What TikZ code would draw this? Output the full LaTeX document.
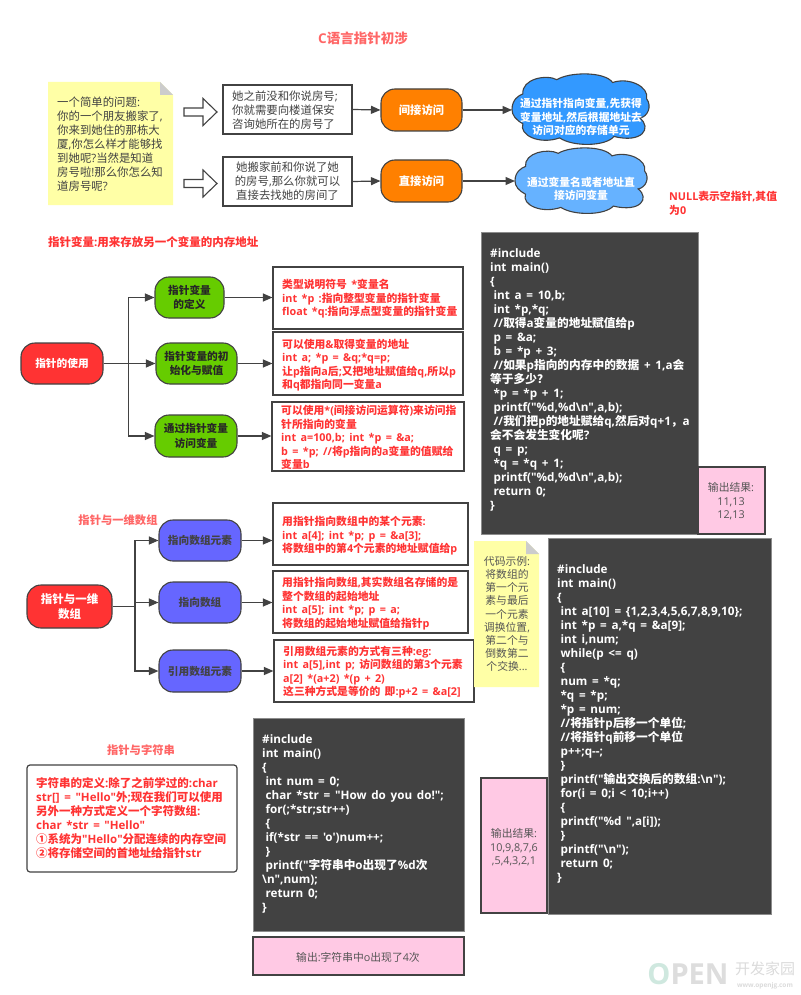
\documentclass[tikz,border=0pt]{standalone}
\usepackage{fontspec}
\usetikzlibrary{arrows.meta}
\newfontfamily\latfam[NFSSFamily=lat,WordSpace=1.55]{Open Sans}
\newfontfamily\cnfam[NFSSFamily=cnf]{Noto Sans CJK SC}
\newcommand\latf{\fontfamily{lat}\selectfont}
\newcommand\cjkf{\fontfamily{cnf}\selectfont}
\XeTeXinterchartokenstate=1
\newXeTeXintercharclass\cjkcls
\newcount\cc
\cc="2E80 \loop \XeTeXcharclass\cc=\cjkcls \advance\cc 1 \ifnum\cc<"A000 \repeat
\cc="FF00 \loop \XeTeXcharclass\cc=\cjkcls \advance\cc 1 \ifnum\cc<"FFF0 \repeat
\cc="2460 \loop \XeTeXcharclass\cc=\cjkcls \advance\cc 1 \ifnum\cc<"2474 \repeat
\XeTeXinterchartoks 0 \cjkcls={\cjkf}
\XeTeXinterchartoks 4095 \cjkcls={\cjkf}
\XeTeXinterchartoks \cjkcls 0={\latf}
\XeTeXinterchartoks \cjkcls 4095={\latf}
\definecolor{ink}{HTML}{424242}
\definecolor{redtxt}{HTML}{FF3333}
\definecolor{softred}{HTML}{FF6666}
\definecolor{notey}{HTML}{FFFFA6}
\definecolor{orangeb}{HTML}{FF8000}
\definecolor{cloudA}{HTML}{3399FF}
\definecolor{cloudB}{HTML}{66B2FF}
\definecolor{rootred}{HTML}{FF3333}
\definecolor{greenb}{HTML}{66CC00}
\definecolor{blueb}{HTML}{6666FF}
\definecolor{pinkb}{HTML}{FFC9E4}
\definecolor{graytxt}{HTML}{555555}
\newcommand\basefont[2]{\latf\fontsize{#1}{#2}\selectfont}
\tikzset{
  rect/.style={draw=ink,line width=1.2pt,fill=white,inner sep=0pt},
  pill/.style={draw=ink,line width=1.1pt,rounded corners=14pt,inner sep=0pt,align=center},
  orangep/.style={pill,fill=orangeb,text=white,font=\basefont{11.3}{14}\bfseries},
  redp/.style={pill,fill=rootred,text=white,font=\basefont{10.7}{14.5}\bfseries},
  greenp/.style={pill,fill=greenb,text=black!85,font=\basefont{10.7}{14.5}\bfseries},
  bluep/.style={pill,fill=blueb,text=ink,font=\basefont{10.7}{14}\bfseries},
  conn/.style={draw=ink,line width=1.2pt,-{Triangle[length=9.5pt,width=8pt]}},
  blockarrow/.style={draw=ink,line width=1.1pt,fill=white},
  redtext/.style={text=redtxt,font=\basefont{10.8}{13.4}\bfseries,align=left,inner sep=0pt,anchor=west},
  darktext/.style={text=ink,font=\basefont{11.4}{14}\selectfont,align=left,inner sep=0pt,anchor=west},
  codetext/.style={text=white,font=\basefont{11.7}{14}\bfseries,align=left,inner sep=0pt,anchor=west},
  cloudtext/.style={text=white,font=\basefont{10.8}{13.2}\bfseries,align=center,inner sep=0pt},
  greytext/.style={text=graytxt,font=\basefont{10.8}{13.4}\selectfont,align=center,inner sep=0pt},
  code/.style={draw=black!45,line width=.8pt,fill=ink,inner sep=0pt},
  pinkbox/.style={draw=ink,line width=1.1pt,fill=pinkb,inner sep=0pt},
  notebox/.style={fill=notey,draw=none},
  fold/.style={fill=black!20,draw=none},
  cloudline/.style={draw=ink,line width=1.1pt},
}
% rectangle-like node from corners
\newcommand\bx[7]{\node[#6,minimum width={(#4-#2)*1pt},minimum height={(#5-#3)*1pt}] (#1) at ({(#2+#4)/2},{(#3+#5)/2}) {#7};}
% free text: name, x, y, style, text
\newcommand\tx[5]{\node[#4] (#1) at (#2,#3) {#5};}
\newcommand\blockar[2]{\draw[blockarrow] (#1,#2-4) -- ++(19,0) -- ++(0,-9.5) -- ++(14,13.5) -- ++(-14,13.5) -- ++(0,-9.5) -- ++(-19,0) -- cycle;}
\newcommand\notesh[4]{\path[notebox] (#1,#2) -- (#3-13,#2) -- (#3,#2+13) -- (#3,#4) -- (#1,#4) -- cycle;
  \path[fold] (#3-13,#2) -- (#3,#2+13) -- (#3-13,#2+13) -- cycle;}
\newcommand\cloudsh[5]{\begin{scope}[shift={(#1,#2)},x=#3pt,y=-#4pt]
  \draw[cloudline,fill=#5] (0,.5) .. controls (0,.36) and (.05,.3) .. (.08,.28)
    .. controls (.07,.07) and (.25,.0) .. (.33,.08)
    .. controls (.42,-.03) and (.68,-.04) .. (.74,.12)
    .. controls (.86,.04) and (1.01,.18) .. (.99,.35)
    .. controls (1.03,.45) and (1,.6) .. (.94,.62)
    .. controls (1.03,.76) and (.96,.98) .. (.75,.88)
    .. controls (.69,1.02) and (.45,1.03) .. (.35,.9)
    .. controls (.2,1) and (.05,.86) .. (.08,.7)
    .. controls (.03,.65) and (0,.58) .. (0,.5) -- cycle;
\end{scope}}
\newcommand\ii{\hspace*{3.4pt}}
\begin{document}
\begin{tikzpicture}[x=1pt,y=-1pt]
\useasboundingbox (0,0) rectangle (800,995);
\fill[white] (0,0) rectangle (800,995);

\tx{title}{363}{38}{text=softred,font=\basefont{13.5}{16}\bfseries,inner sep=0pt}{C语言指针初涉}

% top note
\notesh{48}{82}{173}{205}
\tx{notet}{57}{144}{darktext}{一个简单的问题:\\你的一个朋友搬家了,\\你来到她住的那栋大\\厦,你怎么样才能够找\\到她呢?当然是知道\\房号啦!那么你怎么知\\道房号呢?}
\blockar{184}{112}
\blockar{184}{183.5}

\bx{q1}{223}{85}{352}{134}{rect}{}
\tx{q1t}{232}{110}{darktext}{她之前没和你说房号;\\你就需要向楼道保安\\咨询她所在的房号了}
\bx{q2}{223}{157}{352}{206}{rect}{}
\tx{q2t}{287.5}{181.5}{darktext,align=center,anchor=center}{她搬家前和你说了她\\的房号,那么你就可以\\直接去找她的房间了}

\bx{o1}{381}{89}{462}{131}{orangep}{间接访问}
\bx{o2}{381}{160}{462}{202}{orangep}{直接访问}

\cloudsh{512}{74}{136}{71}{cloudA}
\cloudsh{515}{148}{131}{66}{cloudB}
\coordinate (c1) at (512,110);
\coordinate (c2) at (515,181);
\tx{c1t}{581}{117}{cloudtext}{通过指针指向变量,先获得\\变量地址,然后根据地址去\\访问对应的存储单元}
\tx{c2t}{581}{188.5}{cloudtext}{通过变量名或者地址直\\接访问变量}
\draw[conn] (q1.east) -- (o1.west);
\draw[conn] (q2.east) -- (o2.west);
\draw[conn] (o1.east) -- (c1);
\draw[conn] (o2.east) -- (c2);

\tx{nullt}{669}{203.5}{redtext}{NULL表示空指针,其值\\为0}
\tx{secA}{48}{242}{redtext,font=\basefont{11.5}{14}\bfseries}{指针变量:用来存放另一个变量的内存地址}

% section: pointer use
\bx{r1}{21}{343}{103}{384}{redp}{指针的使用}
\bx{g1}{155}{277}{224}{318}{greenp}{指针变量\\的定义}
\bx{g2}{156}{343}{237}{384}{greenp}{指针变量的初\\始化与赋值}
\bx{g3}{155}{415}{237}{457}{greenp}{通过指针变量\\访问变量}
\coordinate (tr1) at (128.7,363.5);
\draw[conn] (r1.east) -- (tr1) |- (g1.west);
\draw[conn] (r1.east) -- (g2.west);
\draw[conn] (tr1) |- (g3.west);

\bx{b1}{273}{267}{463}{329}{rect}{}
\bx{b2}{273}{332}{463}{395}{rect}{}
\bx{b3}{272}{402}{464}{471}{rect}{}
\tx{b1t}{282}{299}{redtext}{类型说明符号 *变量名\\int *p :指向整型变量的指针变量\\float *q:指向浮点型变量的指针变量}
\tx{b2t}{282}{365}{redtext}{可以使用\&取得变量的地址\\int a; *p = \&q;*q=p;\\让p指向a后;又把地址赋值给q,所以p\\和q都指向同一变量a}
\tx{b3t}{281}{437.5}{redtext}{可以使用*(间接访问运算符)来访问指\\针所指向的变量\\int a=100,b; int *p = \&a;\\b = *p; //将p指向的a变量的值赋给\\变量b}
\draw[conn] (g1.east) -- (g1.east -| b1.west);
\draw[conn] (g2.east) -- (g2.east -| b2.west);
\draw[conn] (g3.east) -- (g3.east -| b3.west);

% code 1
\bx{k1}{481}{232}{698}{534}{code}{}
\tx{k1t}{490}{380}{codetext}{\#include\\int main()\\\{\\\ii int a = 10,b;\\\ii int *p,*q;\\\ii //取得a变量的地址赋值给p\\\ii p = \&a;\\\ii b = *p + 3;\\\ii //如果p指向的内存中的数据 + 1,a会\\等于多少？\\\ii *p = *p + 1;\\\ii printf("\%d,\%d\textbackslash n",a,b);\\\ii //我们把p的地址赋给q,然后对q+1，a\\会不会发生变化呢?\\\ii q = p;\\\ii *q = *q + 1;\\\ii printf("\%d,\%d\textbackslash n",a,b);\\\ii return 0;\\\}}
\bx{p1}{698}{467}{765}{534}{pinkbox}{}
\tx{p1t}{731}{501.5}{greytext}{输出结果:\\11,13\\12,13}

% section: arrays
\tx{secB}{118}{520}{text=softred,font=\basefont{11.3}{14}\bfseries,inner sep=0pt}{指针与一维数组}
\bx{r2}{27}{585}{112}{628}{redp,font=\basefont{11.5}{14.5}\bfseries}{指针与一维\\数组}
\bx{h1}{159}{520}{241}{561}{bluep}{指向数组元素}
\bx{h2}{159}{582}{241}{623}{bluep}{指向数组}
\bx{h3}{159}{650}{241}{692}{bluep}{引用数组元素}
\coordinate (tr2) at (135,606.5);
\draw[conn] (r2.east) -- (tr2) |- (h1.west);
\draw[conn] (tr2) |- (h2.west);
\draw[conn] (tr2) |- (h3.west);
\bx{d1}{273}{503}{468}{565}{rect}{}
\bx{d2}{273}{571}{468}{633}{rect}{}
\bx{d3}{274}{640}{474}{702}{rect}{}
\tx{d1t}{282}{536}{redtext}{用指针指向数组中的某个元素:\\int a[4]; int *p; p = \&a[3];\\将数组中的第4个元素的地址赋值给p}
\tx{d2t}{282}{603.5}{redtext}{用指针指向数组,其实数组名存储的是\\整个数组的起始地址\\int a[5]; int *p; p = a;\\将数组的起始地址赋值给指针p}
\tx{d3t}{283}{672}{redtext}{引用数组元素的方式有三种:eg:\\int a[5],int p; 访问数组的第3个元素\\a[2] *(a+2) *(p + 2)\\这三种方式是等价的 即:p+2 = \&a[2]}
\draw[conn] (h1.east) -- (h1.east -| d1.west);
\draw[conn] (h2.east) -- (h2.east -| d2.west);
\draw[conn] (h3.east) -- (h3.east -| d3.west);

% note 2
\notesh{474}{541}{539}{687}
\tx{n2t}{507}{614}{greytext,font=\basefont{10.8}{13.1}\selectfont}{代码示例:\\将数组的\\第一个元\\素与最后\\一个元素\\调换位置,\\第二个与\\倒数第二\\个交换...}

% code 2
\bx{k2}{548}{538}{771}{914}{code}{}
\tx{k2t}{557}{724}{codetext}{\#include\\int main()\\\{\\\ii int a[10] = \{1,2,3,4,5,6,7,8,9,10\};\\\ii int *p = a,*q = \&a[9];\\\ii int i,num;\\\ii while(p <= q)\\\ii \{\\\ii num = *q;\\\ii *q = *p;\\\ii *p = num;\\\ii //将指针p后移一个单位;\\\ii //将指针q前移一个单位\\\ii p++;q--;\\\ii \}\\\ii printf("输出交换后的数组:\textbackslash n");\\\ii for(i = 0;i < 10;i++)\\\ii \{\\\ii printf("\%d ",a[i]);\\\ii \}\\\ii printf("\textbackslash n");\\\ii return 0;\\\}}
\bx{p2}{481}{778}{547}{913}{pinkbox}{}
\tx{p2t}{514}{847.5}{greytext}{输出结果:\\10,9,8,7,6\\,5,4,3,2,1}

% section: strings
\tx{secC}{141}{750}{text=softred,font=\basefont{11.3}{14}\bfseries,inner sep=0pt}{指针与字符串}
\bx{s1}{27}{765}{237}{872}{rect,rounded corners=3pt}{}
\tx{s1t}{36}{818}{redtext,font=\basefont{11.5}{14}\bfseries}{字符串的定义:除了之前学过的:char\\str[] = "Hello"外;现在我们可以使用\\另外一种方式定义一个字符数组:\\char *str = "Hello"\\①系统为"Hello"分配连续的内存空间\\②将存储空间的首地址给指针str}

\bx{k3}{253}{718}{464}{931}{code}{}
\tx{k3t}{262}{824}{codetext}{\#include\\int main()\\\{\\\ii int num = 0;\\\ii char *str = "How do you do!";\\\ii for(;*str;str++)\\\ii \{\\\ii if(*str == 'o')num++;\\\ii \}\\\ii printf("字符串中o出现了\%d次\\\textbackslash n",num);\\\ii return 0;\\\}}
\bx{p3}{253}{937}{464}{975}{pinkbox}{}
\tx{p3t}{358}{957}{greytext}{输出:字符串中o出现了4次}

% watermark
\tx{wm1}{688}{974}{font=\basefont{29}{30}\bfseries,inner sep=0pt}{\textcolor[HTML]{CFE8DF}{O}\textcolor[HTML]{DDDDDD}{PEN}}
\tx{wm2}{765}{968.5}{font=\basefont{15}{15}\selectfont,text=black!14,inner sep=0pt}{开发家园}
\tx{wm3}{765}{986}{font=\basefont{6.5}{7}\bfseries,text=black!14,inner sep=0pt}{www.openjg.com}
\end{tikzpicture}
\end{document}
